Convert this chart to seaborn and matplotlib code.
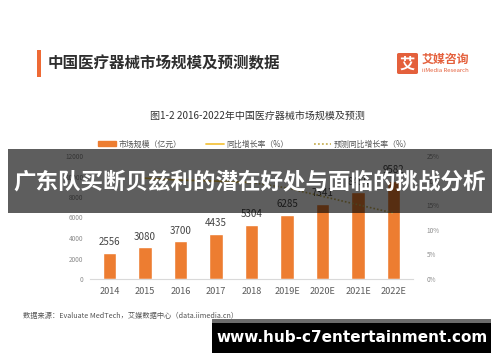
import numpy as np
import pandas as pd
import matplotlib
matplotlib.use("Agg")
import matplotlib.pyplot as plt
import seaborn as sns
from matplotlib.patches import Rectangle, FancyBboxPatch
from matplotlib.lines import Line2D

# --- Data ---
years = ["2014", "2015", "2016", "2017", "2018", "2019E", "2020E", "2021E", "2022E"]
market_size = [2556, 3080, 3700, 4435, 5304, 6285, 7341, 8450, 9582]  # 亿元

actual_years = ["2015", "2016", "2017", "2018"]
actual_rate = [20.5, 20.1, 19.9, 19.6]  # %
forecast_years = ["2018", "2019E", "2020E", "2021E", "2022E"]
forecast_rate = [19.6, 18.5, 16.8, 15.1, 13.4]  # %

left_ticks = [0, 2000, 4000, 6000, 8000, 10000, 12000]
right_ticks = [0, 5, 10, 15, 20, 25]

bar_color = "#ED7D31"
line_color = "#F4C441"
dot_color = "#C9B35C"

sns.set_theme(style="white")
plt.rcParams["font.family"] = ["Noto Sans CJK SC", "DejaVu Sans"]

fig = plt.figure(figsize=(5, 3.62), dpi=100)
W, H = 500, 362


def fx(px):
    return px / W


def fy(py):
    return 1 - py / H


ax = fig.add_axes([fx(90), fy(279), fx(413) - fx(90), fy(156) - fy(279)])

bars = pd.DataFrame({"year": years, "size": market_size})
sns.barplot(data=bars, x="year", y="size", color=bar_color, width=0.38,
            saturation=1, ax=ax, zorder=2)
ax.bar_label(ax.containers[0], fontsize=7, color="#444444", padding=4)
ax.set_ylim(0, 12000)
ax.set_yticks(left_ticks)
ax.set_yticklabels([str(t) for t in left_ticks], fontsize=4.6, color="#8c8c8c")
ax.tick_params(axis="x", labelsize=6.6, colors="#5a5a5a", length=0, pad=6)
ax.tick_params(axis="y", length=0, pad=5)
ax.set_xlabel("")
ax.set_ylabel("")
for s in ["left", "right", "top"]:
    ax.spines[s].set_visible(False)
ax.spines["bottom"].set_color("#d9d9d9")
ax.spines["bottom"].set_linewidth(0.8)
ax.set_xlim(-0.55, len(years) - 0.45)

ax2 = ax.twinx()
act = pd.DataFrame({"pos": [years.index(y) for y in actual_years], "rate": actual_rate})
fc = pd.DataFrame({"pos": [years.index(y) for y in forecast_years], "rate": forecast_rate})
sns.lineplot(data=act, x="pos", y="rate", color=line_color, linewidth=1.2, ax=ax2)
sns.lineplot(data=fc, x="pos", y="rate", color=dot_color, linewidth=1.2,
             linestyle=(0, (1, 1.2)), ax=ax2)
ax2.set_ylim(0, 25)
ax2.set_yticks(right_ticks)
ax2.set_yticklabels([f"{t}%" for t in right_ticks], fontsize=4.6, color="#8c8c8c")
ax2.tick_params(axis="y", length=0, pad=10)
ax2.set_xlabel("")
ax2.set_ylabel("")
for s in ["left", "right", "top", "bottom"]:
    ax2.spines[s].set_visible(False)
ax2.set_xlim(ax.get_xlim())

# legend
handles = [
    Rectangle((0, 0), 1, 1, color=bar_color),
    Line2D([], [], color=line_color, linewidth=1.3),
    Line2D([], [], color=dot_color, linewidth=1.3, linestyle=(0, (1, 1.2))),
]
labels = ["市场规模（亿元）", "同比增长率（%）", "预测同比增长率（%）"]
fig.legend(handles, labels, loc="center", bbox_to_anchor=(fx(255), fy(144)),
           ncol=3, frameon=False, fontsize=5.7, handlelength=2.2, handleheight=0.6,
           handletextpad=0.3, columnspacing=3.2, labelcolor="#555555")

# header
fig.add_artist(Rectangle((fx(37), fy(77)), fx(4), fy(50) - fy(77),
                         transform=fig.transFigure, color="#EE6A35", lw=0))
fig.text(fx(48), fy(63), "中国医疗器械市场规模及预测数据", fontsize=11.2,
         fontweight="bold", color="#2e2e2e", va="center", ha="left")

# logo
fig.add_artist(FancyBboxPatch((fx(397), fy(74)), fx(21), fy(53) - fy(74),
                              boxstyle="round,pad=0,rounding_size=0.004",
                              transform=fig.transFigure, color="#E4603C", lw=0))
fig.text(fx(407.5), fy(63.5), "艾", fontsize=11, fontweight="bold", color="white",
         ha="center", va="center")
fig.text(fx(422), fy(59), "艾媒咨询", fontsize=8.6, fontweight="bold",
         color="#E4603C", ha="left", va="center")
fig.text(fx(422), fy(70), "iiMedia Research", fontsize=4.3, color="#E4603C",
         ha="left", va="center")

fig.text(fx(257), fy(116), "图1-2 2016-2022年中国医疗器械市场规模及预测",
         fontsize=7.2, color="#333333", ha="center", va="center")

fig.text(fx(23), fy(316), "数据来源：Evaluate MedTech，艾媒数据中心（data.iimedia.cn）",
         fontsize=5.2, color="#555555", ha="left", va="center")

# dark overlay band with headline
fig.add_artist(Rectangle((fx(8), fy(213)), fx(492) - fx(8), fy(149) - fy(213),
                         transform=fig.transFigure, color="black", alpha=0.63,
                         lw=0, zorder=10))
fig.text(fx(250), fy(182), "广东队买断贝兹利的潜在好处与面临的挑战分析",
         fontsize=16.2, fontweight="bold", color="white", ha="center",
         va="center", zorder=11)

# bottom url box
fig.add_artist(Rectangle((fx(212), fy(323)), fx(491) - fx(212), fy(319) - fy(323),
                         transform=fig.transFigure, color="#6b6b6b", lw=0, zorder=10))
fig.add_artist(Rectangle((fx(212), fy(353)), fx(491) - fx(212), fy(323) - fy(353),
                         transform=fig.transFigure, color="black", lw=0, zorder=10))
fig.text(fx(352), fy(338), "www.hub-c7entertainment.com", fontsize=11,
         fontweight="bold", color="white", ha="center", va="center", zorder=11,
         family="DejaVu Sans")

fig.savefig("out.png", dpi=100)
